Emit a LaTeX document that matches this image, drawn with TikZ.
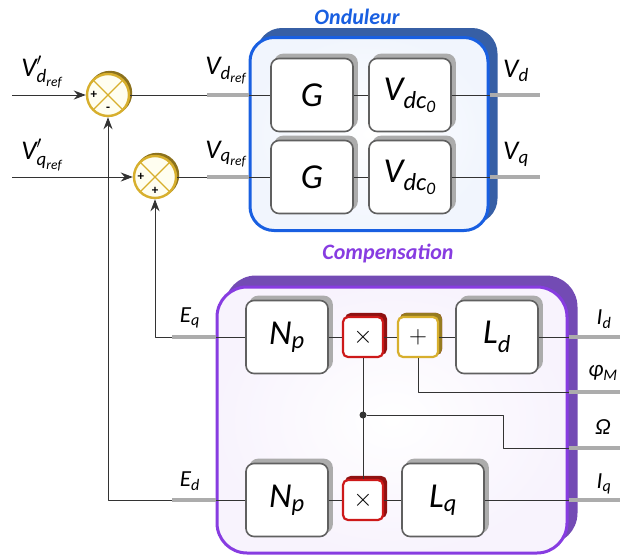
\documentclass[tikz,border=0pt]{standalone}
\usepackage{amsmath}
\usepackage{fontspec}
\setmainfont{Carlito}
\usetikzlibrary{positioning,shadows,arrows.meta}
\definecolor{ondblue}{RGB}{25,95,225}
\definecolor{onddark}{RGB}{55,95,165}
\definecolor{compurple}{RGB}{135,60,225}
\definecolor{compdark}{RGB}{115,75,180}
\definecolor{sumgold}{RGB}{215,175,45}
\definecolor{mulred}{RGB}{205,25,25}
\tikzset{
  block/.style={draw=gray!75!black, line width=1.6pt, fill=white, rounded corners=8pt,
    minimum width=82pt, minimum height=73pt, inner sep=0pt,
    copy shadow={shadow xshift=4pt, shadow yshift=4pt, draw=gray!65, fill=gray!65},
    font=\fontsize{35}{36}\selectfont},
  sumnode/.style={circle, draw=sumgold, line width=2.4pt, fill=yellow!6, minimum size=42pt, inner sep=0pt,
    copy shadow={shadow xshift=2pt, shadow yshift=2pt, draw=sumgold!65!black, fill=sumgold!65!black},
    path picture={\draw[sumgold, line width=1.4pt]
      (path picture bounding box.north west) -- (path picture bounding box.south east)
      (path picture bounding box.north east) -- (path picture bounding box.south west);}},
  sumsign/.style={font=\bfseries\fontsize{13}{13}\selectfont, inner sep=0pt},
  mulbox/.style={draw=mulred, line width=2.2pt, fill=white, rounded corners=5pt,
    minimum size=40pt, inner sep=0pt,
    copy shadow={shadow xshift=3pt, shadow yshift=3pt, draw=mulred!70!black, fill=mulred!70!black},
    font=\fontsize{24}{24}\selectfont},
  addbox/.style={mulbox, draw=sumgold,
    copy shadow={shadow xshift=3pt, shadow yshift=3pt, draw=sumgold!70!black, fill=sumgold!70!black}},
  ondbox/.style={draw=ondblue, line width=3pt, rounded corners=24pt, inner color=white, outer color=ondblue!6,
    minimum width=238pt, minimum height=193pt,
    copy shadow={shadow xshift=8pt, shadow yshift=8pt, draw=onddark, fill=onddark}},
  compbox/.style={draw=compurple, line width=3pt, rounded corners=30pt, inner color=white, outer color=compurple!6,
    minimum width=350pt, minimum height=266pt,
    copy shadow={shadow xshift=9pt, shadow yshift=10pt, draw=compdark, fill=compdark}},
  boxtitle/.style={font=\bfseries\itshape\fontsize{22}{23}\selectfont},
  lbl/.style={font=\fontsize{27}{28}\selectfont, inner sep=1pt},
  outlbl/.style={font=\fontsize{23}{24}\selectfont, inner sep=1pt},
  sig/.style={draw=black!80, line width=0.9pt},
  portline/.style={draw=gray!65, line width=3.5pt},
}
\begin{document}
\begin{tikzpicture}[x=1pt,y=-1pt,>={Stealth[length=12pt,width=9pt]}, line join=round]
\useasboundingbox (0,0) rectangle (622,560);

% containers
\node[ondbox] (ond) at (369,134) {};
\node[compbox] (comp) at (392,420) {};
\node[boxtitle, text=ondblue] (tond) at (357,17) {Onduleur};
\node[boxtitle, text=compurple] (tcomp) at (388,254) {Compensation};

% summing junctions
\node[sumnode] (sd) at (108,95) {};
\node[sumnode] (sq) at (155,177) {};
\node[sumsign] (sdp) at ([xshift=8pt]sd.west) {+};
\node[sumsign] (sdm) at ([yshift=8pt]sd.south) {-};
\node[sumsign] (sqp) at ([xshift=8pt]sq.west) {+};
\node[sumsign] (sqm) at ([yshift=8pt]sq.south) {+};

% onduleur blocks
\node[block] (G1) at (312,95) {$\textit{G}$};
\node[block] (V1) at (410,95) {$\textit{V}_{\textit{dc}_{\textit{0}}}$};
\node[block] (G2) at (312,177) {$\textit{G}$};
\node[block] (V2) at (410,177) {$\textit{V}_{\textit{dc}_{\textit{0}}}$};

% compensation blocks
\node[block] (Np1) at (287,337) {$\textit{N}_{\textit{p}}$};
\node[mulbox] (m1) at (363,337) {$\times$};
\node[addbox] (a1) at (418,337) {$+$};
\node[block] (Ld) at (497,337) {$\textit{L}_{\textit{d}}$};
\node[block] (Np2) at (287,500) {$\textit{N}_{\textit{p}}$};
\node[mulbox] (m2) at (363,500) {$\times$};
\node[block] (Lq) at (443,500) {$\textit{L}_{\textit{q}}$};
\node[circle, fill=black!80, minimum size=7pt, inner sep=0pt] (jn) at (363,415) {};

% ports
\coordinate (indref) at (12,95);
\coordinate (inqref) at (12,177);
\coordinate (pvd) at (207,95);
\coordinate (pvq) at (207,177);
\coordinate (outvd) at (540,95);
\coordinate (outvq) at (540,177);
\coordinate (eqport) at (172,337);
\coordinate (edport) at (172,500);
\coordinate (outid) at (620,337);
\coordinate (outphi) at (620,392);
\coordinate (outom) at (620,448);
\coordinate (outiq) at (620,500);
\coordinate (bend) at (503,415);

% labels
\node[lbl] (lvdr) at (42,72) {$\textit{V}'_{\textit{d}_{\textit{ref}}}$};
\node[lbl] (lvqr) at (42,155) {$\textit{V}'_{\textit{q}_{\textit{ref}}}$};
\node[lbl] (lvd) at (226,71) {$\textit{V}_{\textit{d}_{\textit{ref}}}$};
\node[lbl] (lvq) at (226,154) {$\textit{V}_{\textit{q}_{\textit{ref}}}$};
\node[lbl] (lod) at (516,71) {$\textit{V}_{\textit{d}}$};
\node[lbl] (loq) at (516,154) {$\textit{V}_{\textit{q}}$};
\node[outlbl] (leq) at (190,318) {$\textit{E}_{\textit{q}}$};
\node[outlbl] (led) at (190,481) {$\textit{E}_{\textit{d}}$};
\node[outlbl] (lid) at (604,319) {$\textit{I}_{\textit{d}}$};
\node[outlbl] (lphi) at (603,373) {$\textit{φ}_{\textit{M}}$};
\node[outlbl] (lom) at (603,427) {\textit{Ω}};
\node[outlbl] (liq) at (604,484) {$\textit{I}_{\textit{q}}$};

% onduleur signals
\draw[sig,->] (indref) -- (sd);
\draw[sig,->] (inqref) -- (sq);
\draw[sig] (sd) -- (pvd);
\draw[sig] (sq) -- (pvq);
\draw[portline] (pvd) -- (pvd -| ond.west);
\draw[portline] (pvq) -- (pvq -| ond.west);
\draw[sig] (pvd -| ond.west) -- (G1) -- (V1) -- (V1 -| ond.east);
\draw[sig] (pvq -| ond.west) -- (G2) -- (V2) -- (V2 -| ond.east);
\draw[portline] (V1 -| ond.east) -- (outvd);
\draw[portline] (V2 -| ond.east) -- (outvq);

% compensation signals
\draw[sig,->] (eqport) -| (sq);
\draw[sig,->] (edport) -| (sd);
\draw[portline] (eqport) -- (eqport -| comp.west);
\draw[portline] (edport) -- (edport -| comp.west);
\draw[sig] (eqport -| comp.west) -- (Np1) -- (m1) -- (a1) -- (Ld) -- (Ld -| comp.east);
\draw[sig] (edport -| comp.west) -- (Np2) -- (m2) -- (Lq) -- (Lq -| comp.east);
\draw[sig] (a1) |- (outphi -| comp.east);
\draw[sig] (m1) -- (m2);
\draw[sig] (jn) -- (bend) |- (outom -| comp.east);
\draw[portline] (Ld -| comp.east) -- (outid);
\draw[portline] (outphi -| comp.east) -- (outphi);
\draw[portline] (outom -| comp.east) -- (outom);
\draw[portline] (Lq -| comp.east) -- (outiq);
\end{tikzpicture}
\end{document}
